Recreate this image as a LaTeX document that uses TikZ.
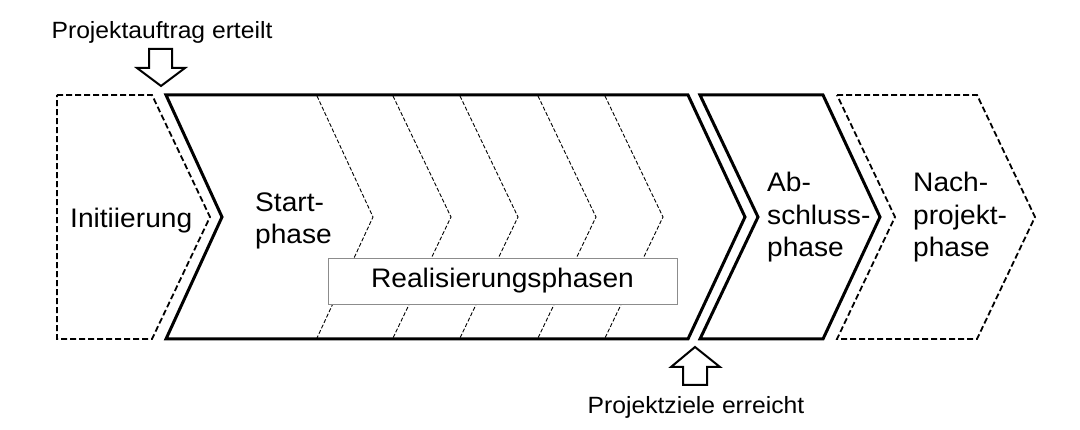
\documentclass[tikz,border=0pt]{standalone}
\usepackage{fontspec}
\setmainfont{Liberation Sans}[FakeStretch=1.05]
\begin{document}
\begin{tikzpicture}[x=1pt,y=-1pt,
  phasebold/.style={draw=black, line width=3pt, line join=miter, miter limit=20},
  phasedash/.style={draw=black, line width=1.8pt, dash pattern=on 6pt off 3pt, line join=miter},
  subdash/.style={draw=black, line width=0.9pt, dash pattern=on 4pt off 2pt},
  hollowarrow/.style={draw=black, line width=2pt, fill=white, line join=miter},
  biglabel/.style={font=\fontsize{26.8}{32.5}\selectfont, inner sep=0pt, align=left, anchor=base west},
  smalllabel/.style={font=\fontsize{23.5}{27}\selectfont, inner sep=0pt, anchor=base},
  realbox/.style={draw=black!45, line width=0.9pt, fill=white, minimum width=349pt, minimum height=46pt, inner sep=0pt, font=\fontsize{26.8}{32.5}\selectfont}
]
\useasboundingbox (0,0) rectangle (1080,430);
% Initiierung (dashed)
\draw[phasedash] (57,95) -- (152,95) -- (210,217) -- (152,339) -- (57,339) -- cycle;
% inner dashed chevrons
\foreach \x/\d in {317/56, 393/58, 460/58, 538/58, 605/58}{
  \draw[subdash] (\x,96) -- (\x+\d,217) -- (\x,338);
}
% Realisierungsphasen box
\node[realbox] (real) at (502.5,281) {Realisierungsphasen};
% Start / Realisierung (bold)
\draw[phasebold] (166,95) -- (688,95) -- (745,217) -- (688,339) -- (166,339) -- (222,217) -- cycle;
% Abschluss (bold)
\draw[phasebold] (700,95) -- (823,95) -- (880,217) -- (823,339) -- (700,339) -- (758,217) -- cycle;
% Nachprojekt (dashed)
\draw[phasedash] (837,95) -- (977,95) -- (1035,217) -- (977,339) -- (837,339) -- (895,217) -- cycle;
% labels
\node[biglabel] (init) at (70,228) {Initiierung};
\node[biglabel] (start) at (255,244) {Start-\\phase};
\node[biglabel] (absch) at (767,257) {Ab-\\schluss-\\phase};
\node[biglabel] (nach) at (913,257) {Nach-\\projekt-\\phase};
% top arrow
\node[smalllabel] (auftrag) at (162,39) {Projektauftrag erteilt};
\coordinate (toptip) at (161,86);
\draw[hollowarrow] (149,49) -- (172,49) -- (172,68) -- (185,68) -- (toptip) -- (137,68) -- (149,68) -- cycle;
% bottom arrow
\node[smalllabel] (ziele) at (696,414) {Projektziele erreicht};
\coordinate (bottip) at (695,347);
\draw[hollowarrow] (bottip) -- (720,367) -- (707,367) -- (707,385) -- (683,385) -- (683,367) -- (671,367) -- cycle;
\end{tikzpicture}
\end{document}
